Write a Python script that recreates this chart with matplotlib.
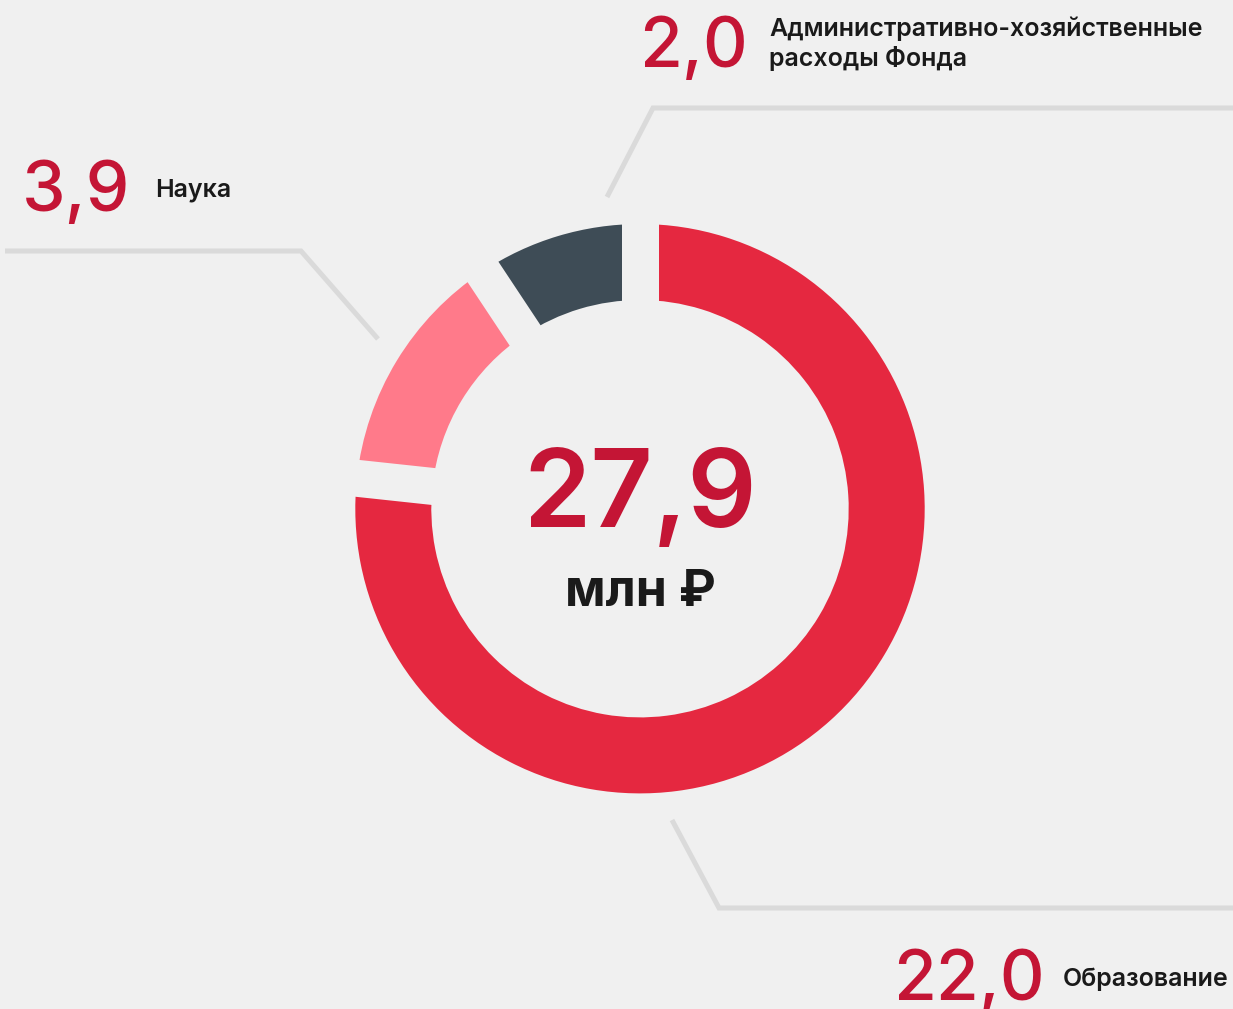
import numpy as np
import matplotlib
matplotlib.use('Agg')
import matplotlib.pyplot as plt

plt.rcParams['font.family'] = ['Inter', 'DejaVu Sans']

# данные
categories = ['Образование', 'Наука', 'Административно-хозяйственные\nрасходы Фонда']
values = [22.0, 3.9, 2.0]
value_labels = ['22,0', '3,9', '2,0']
# доли дуг, как они нарисованы на картинке
arc_sizes = [21.4, 3.9, 2.6]
total_label = '27,9'
unit_label = 'млн ₽'

colors = ['#E52840', '#FF7A8A', '#3E4C56']
bg = '#F0F0F0'
red_text = '#C41535'
dark_text = '#1A1A1A'
line_color = '#DADADA'

W, H = 1233, 1009
fig = plt.figure(figsize=(W / 100, H / 100), dpi=100, facecolor=bg)
ax = fig.add_axes([0, 0, 1, 1])
ax.set_facecolor(bg)


def Y(y):
    return H - y


cx, cy = 640, Y(508.7)
R, ring = 284.7, 76

wedges, _ = ax.pie(arc_sizes, colors=colors, startangle=90, counterclock=False,
                   radius=R, center=(cx, cy), frame=True,
                   wedgeprops=dict(width=ring, linewidth=0))
ax.set_xlim(0, W)
ax.set_ylim(0, H)
ax.set_aspect('equal')
ax.axis('off')

# зазоры между сегментами
for w in wedges:
    a = np.deg2rad(w.theta1)
    ax.plot([cx, cx + (R + 20) * np.cos(a)], [cy, cy + (R + 20) * np.sin(a)],
            color=bg, lw=37 * 0.72, solid_capstyle='butt', zorder=3)

# выноски
leaders = [
    [(672, 820), (719, 908), (1240, 908)],
    [(378, 339), (301, 251), (5, 251)],
    [(607, 197), (653, 108), (1240, 108)],
]
for pts in leaders:
    xs = [p[0] for p in pts]
    ys = [Y(p[1]) for p in pts]
    ax.plot(xs, ys, color=line_color, lw=5 * 0.72, solid_joinstyle='miter',
            solid_capstyle='butt', zorder=1)

# подписи
num_pos = [(893, 1000), (22, 211), (639, 67)]
cat_pos = [(1063, 986), (155, 197), (769, 66)]
for i in range(len(values)):
    ax.text(num_pos[i][0], Y(num_pos[i][1]), value_labels[i], color=red_text,
            fontsize=50, fontweight='medium', ha='left', va='baseline')
    ax.text(cat_pos[i][0], Y(cat_pos[i][1]), categories[i], color=dark_text,
            fontsize=18, fontweight='semibold', ha='left', va='baseline',
            linespacing=1.25)

ax.text(cx, Y(527), total_label, color=red_text, fontsize=78,
        fontweight='semibold', ha='center', va='baseline')
ax.text(cx, Y(606), unit_label, color=dark_text, fontsize=36,
        fontweight='bold', ha='center', va='baseline')

fig.savefig('out.png', dpi=100, facecolor=bg)
